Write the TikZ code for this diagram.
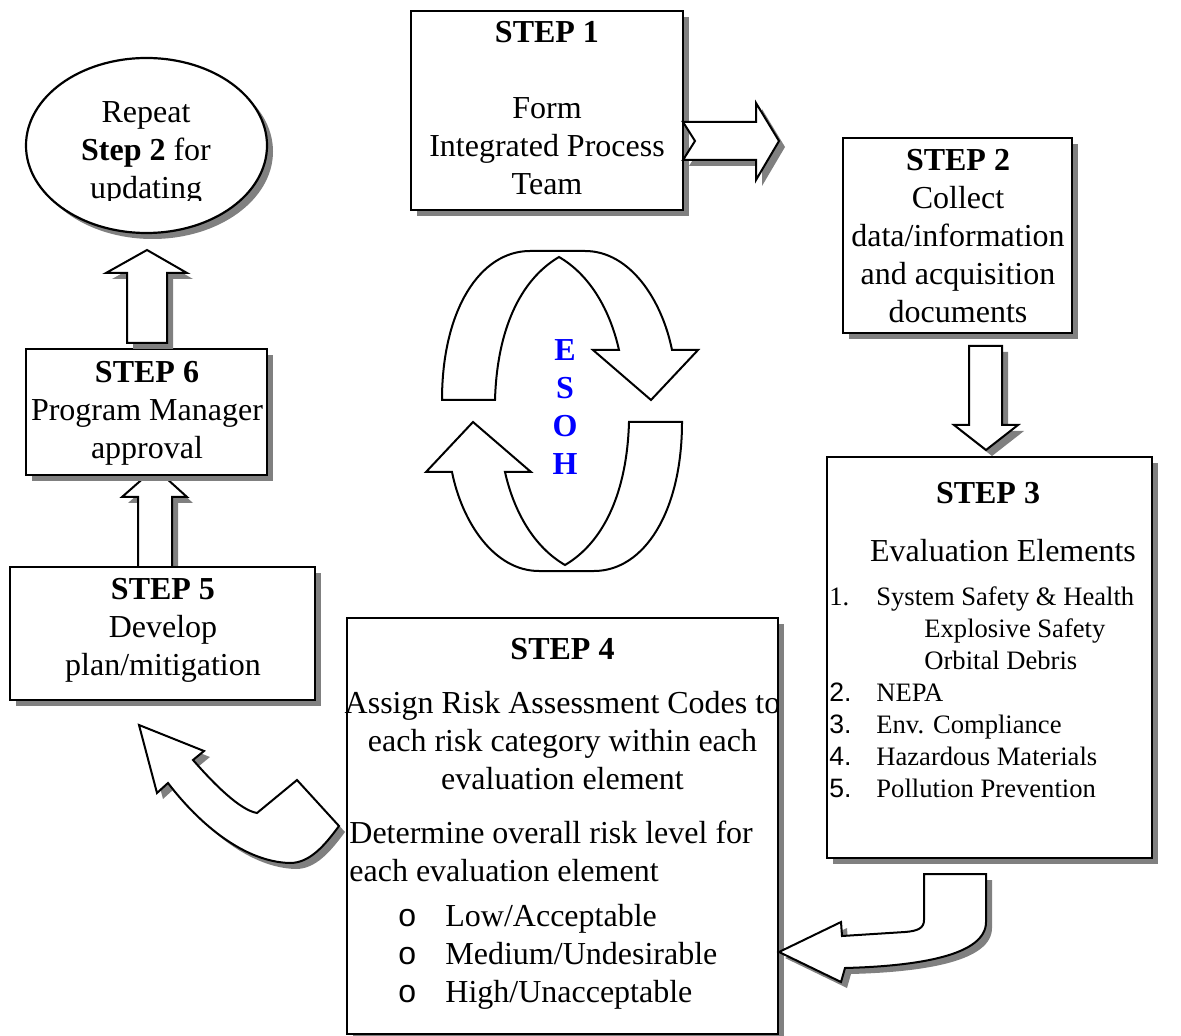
\documentclass[tikz,border=0pt]{standalone}
\usepackage{fontspec}
\setmainfont{Liberation Serif}
\newfontfamily\arialfont{Liberation Sans}
\usetikzlibrary{shapes.geometric,shadows}

\begin{document}
\begin{tikzpicture}[x=0.5pt, y=-0.5pt,
    every node/.style={font=\fontsize{16}{19}\selectfont, inner sep=0pt},
    grayshadow/.style={drop shadow={shadow xshift=3pt, shadow yshift=-3pt, fill=black!50, opacity=1}},
    stepbox/.style={draw, fill=white, line width=1.1pt, grayshadow},
    blockarrow/.style={draw, fill=white, line width=1pt, grayshadow},
    cyclearrow/.style={draw, fill=white, line width=1pt},
    steptext/.style={align=center, anchor=base},
    listtext/.style={align=left, anchor=base west}]
    \useasboundingbox (0,0) rectangle (1181,1036);

    % Arrow from Step 5 up to Step 6 (tip hidden under Step 6)
    \draw[blockarrow] (138,567) -- (138,497) -- (122,497) -- (155,468) -- (187,497) -- (172,497) -- (172,567) -- cycle;

    % Boxes
    \node[stepbox, minimum width=136pt, minimum height=99.5pt] (step1) at (547,110.5) {};
    \node[stepbox, minimum width=114.5pt, minimum height=97.5pt] (step2) at (957.5,235.5) {};
    \node[stepbox, minimum width=162.5pt, minimum height=200.5pt] (step3) at (989.5,657.5) {};
    \node[stepbox, minimum width=215.5pt, minimum height=208pt] (step4) at (562.5,826) {};
    \node[stepbox, minimum width=152.5pt, minimum height=66.5pt] (step5) at (162.5,633.5) {};
    \node[stepbox, minimum width=120.5pt, minimum height=63pt] (step6) at (146.5,412) {};
    \node[stepbox, ellipse, minimum width=120.5pt, minimum height=87.5pt] (repeat) at (146.5,145.5) {};

    % Box texts (anchored at the baseline of the last line)
    \node[steptext] (step1txt) at (547,195) {\textbf{STEP 1}\\[19pt]Form\\Integrated Process\\Team};
    \node[steptext] (step2txt) at (958,323) {\textbf{STEP 2}\\Collect\\data/information\\and acquisition\\documents};
    \node[steptext] (step3txt) at (988,503) {\textbf{STEP 3}};
    \node[steptext] (evaltxt) at (1003,561) {Evaluation Elements};
    \node[listtext, font=\fontsize{13.3}{16}\selectfont] (evallist) at (829,797)
        {\makebox[23.5pt][l]{1.}System Safety \& Health\\
         \hspace*{47.5pt}Explosive Safety\\
         \hspace*{47.5pt}Orbital Debris\\
         \makebox[23.5pt][l]{\arialfont 2.}NEPA\\
         \makebox[23.5pt][l]{\arialfont 3.}Env. Compliance\\
         \makebox[23.5pt][l]{\arialfont 4.}Hazardous Materials\\
         \makebox[23.5pt][l]{\arialfont 5.}Pollution Prevention};
    \node[steptext] (step4txt) at (562.5,659) {\textbf{STEP 4}};
    \node[steptext] (assigntxt) at (562.5,789) {Assign Risk Assessment Codes to\\each risk category within each\\evaluation element};
    \node[listtext] (leveltxt) at (349,881) {Determine overall risk level for\\each evaluation element};
    \node[listtext] (levellist) at (398,1002)
        {\makebox[23.5pt][l]{\arialfont o}Low/Acceptable\\
         \makebox[23.5pt][l]{\arialfont o}Medium/Undesirable\\
         \makebox[23.5pt][l]{\arialfont o}High/Unacceptable};
    \node[steptext] (step5txt) at (163,675) {\textbf{STEP 5}\\Develop\\plan/mitigation};
    \node[steptext] (step6txt) at (147,459) {\textbf{STEP 6}\\Program Manager\\approval};
    \begin{scope}
        \clip (26,58) rectangle (267,201);
        \node[steptext] (repeattxt) at (146,199) {Repeat\\\textbf{Step 2} for\\updating};
    \end{scope}

    % Block arrows between steps
    \draw[blockarrow] (683,122) -- (756,122) -- (756,103) -- (779,141) -- (756,180) -- (756,160) -- (683,160) -- (695,141) -- cycle;
    \draw[blockarrow] (969,346) -- (1002,346) -- (1002,425) -- (1018,425) -- (986,450) -- (954,425) -- (969,425) -- cycle;
    \draw[blockarrow] (127,343) -- (127,273) -- (106,273) -- (147,250) -- (187,273) -- (167,273) -- (167,343) -- cycle;

    % Bent arrow Step 3 -> Step 4
    \draw[blockarrow] (924,874) -- (986,874) -- (986,922) .. controls (986,955) and (920,966) .. (845,968)
        -- (841,982) -- (779,952) -- (841,922) -- (842,936) -- (905,932) .. controls (918,931) and (924,928) .. (924,920) -- cycle;

    % Bent arrow Step 4 -> Step 5
    \draw[blockarrow] (139,725) -- (157,793) -- (168,783) .. controls (200,825) and (245,862) .. (290,863)
        .. controls (310,863) and (325,845) .. (339,826) -- (297,780) -- (257,813)
        .. controls (240,810) and (215,785) .. (193,760) -- (204,751) -- cycle;

    % ESOH cycle
    \draw[cyclearrow] (442,400) .. controls (442,310) and (480,251) .. (530,251) -- (585,251)
        .. controls (630,251) and (662,300) .. (672,350) -- (698,350) -- (651,400) -- (593,350) -- (619,350)
        .. controls (610,310) and (590,275) .. (559,257) .. controls (520,280) and (497,330) .. (495,400) -- cycle;
    \draw[cyclearrow, rotate around={180:(562,411)}] (442,400) .. controls (442,310) and (480,251) .. (530,251) -- (585,251)
        .. controls (630,251) and (662,300) .. (672,350) -- (698,350) -- (651,400) -- (593,350) -- (619,350)
        .. controls (610,310) and (590,275) .. (559,257) .. controls (520,280) and (497,330) .. (495,400) -- cycle;
    \node[steptext, text=blue, font=\fontsize{16}{19}\selectfont\bfseries] (esoh) at (565,475) {E\\S\\O\\H};
\end{tikzpicture}
\end{document}
